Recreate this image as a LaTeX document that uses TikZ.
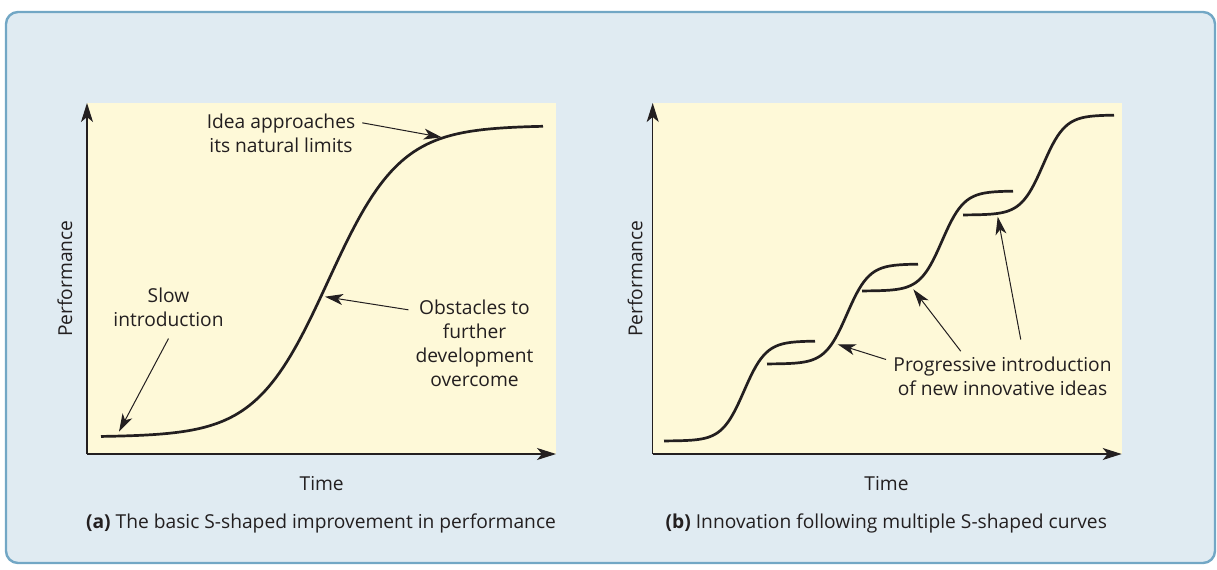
\documentclass[tikz,border=0pt]{standalone}
\usepackage{fontspec}
\setmainfont{Open Sans}
\usepackage{tikz}
\usetikzlibrary{arrows.meta,positioning,calc}
\definecolor{panelfill}{HTML}{E0EBF2}
\definecolor{paneledge}{HTML}{72A7C5}
\definecolor{plotfill}{HTML}{FEF9D8}
\definecolor{ink}{HTML}{231F20}
\tikzset{
  axisline/.style={-{Stealth[length=9.5pt, width=6pt, inset=2.5pt]}, line width=0.6pt, draw=ink},
  pointer/.style={-{Stealth[length=9pt, width=5.5pt, inset=2.5pt]}, line width=0.5pt, draw=ink},
  scurve/.style={line width=1.35pt, draw=ink},
  note/.style={align=center, inner sep=0pt, anchor=base, text=ink},
  captext/.style={inner sep=0pt, anchor=base, text=ink},
  axistitle/.style={inner sep=0pt, anchor=base, text=ink, rotate=90}
}

\begin{document}
\begin{tikzpicture}[x=0.5pt, y=-0.5pt, font=\fontsize{9.6}{12}\selectfont]
  \useasboundingbox (0,0) rectangle (1217,569);
  \draw[fill=panelfill, draw=paneledge, line width=1.2pt, rounded corners=6pt] (6,12) rectangle (1215,563);

  % (a) single S-curve
  \fill[plotfill] (87,103) rectangle (556,454);
  \coordinate (aorigin) at (87,454);
  \coordinate (atop) at (87,103);
  \coordinate (aright) at (556,454);
  \draw[axisline] (aorigin) -- (atop);
  \draw[axisline] (aorigin) -- (aright);
  \draw[scurve] plot[domain=101:543, samples=120] (\x, {437-311.5/(1+exp(-(\x-328)/36))});

  \node[axistitle] (aperf) at (72,278.5) {Performance};
  \node[captext] (atime) at (321.7,490) {Time};
  \node[captext] (acap) at (321,528) {\textbf{(a)} The basic S-shaped improvement in performance};

  % base anchor sits on the last line
  \node[note] (idea) at (281,152) {Idea approaches\\its natural limits};
  \node[note] (slow) at (168.5,326) {Slow\\introduction};
  \node[note] (obstacles) at (474.5,386) {Obstacles to\\further\\development\\overcome};
  \coordinate (ideatip) at (441.7,137.3);
  \coordinate (slowtip) at (119,431.7);
  \coordinate (obstip) at (325,296.7);
  \draw[pointer] ($(idea.north east)+(6.7,9.8)$) -- (ideatip);
  \draw[pointer] ($(slow.south)+(0,12)$) -- (slowtip);
  \draw[pointer] ($(obstacles.north west)+(-6.7,10.8)$) -- (obstip);

  % (b) successive S-curves
  \fill[plotfill] (652.7,103) rectangle (1121.7,454);
  \coordinate (borigin) at (652.7,454);
  \coordinate (btop) at (652.7,103);
  \coordinate (bright) at (1121.7,454);
  \draw[axisline] (borigin) -- (btop);
  \draw[axisline] (borigin) -- (bright);
  \foreach \xs/\ys in {664/441, 767/364, 862/291, 963/215}
    \draw[scurve] plot[domain=\xs:\xs+151, samples=60] (\x, {\ys-100/(1+exp(-(\x-\xs-80)/11))});

  \node[axistitle] (bperf) at (642.3,278.5) {Performance};
  \node[captext] (btime) at (886.5,490) {Time};
  \node[captext] (bcap) at (886.3,528) {\textbf{(b)} Innovation following multiple S-shaped curves};

  \node[note] (progress) at (1002.5,395) {Progressive introduction\\of new innovative ideas};
  \coordinate (progtipa) at (837.7,344.3);
  \coordinate (progtipb) at (913.3,289.3);
  \coordinate (progtipc) at (997.7,216.7);
  \draw[pointer] ($(progress.north west)+(-7,3.5)$) -- (progtipa);
  \draw[pointer] ($(progress.north west)+(67.7,-4.8)$) -- (progtipb);
  \draw[pointer] ($(progress.north west)+(127.7,-16.5)$) -- (progtipc);
\end{tikzpicture}
\end{document}
